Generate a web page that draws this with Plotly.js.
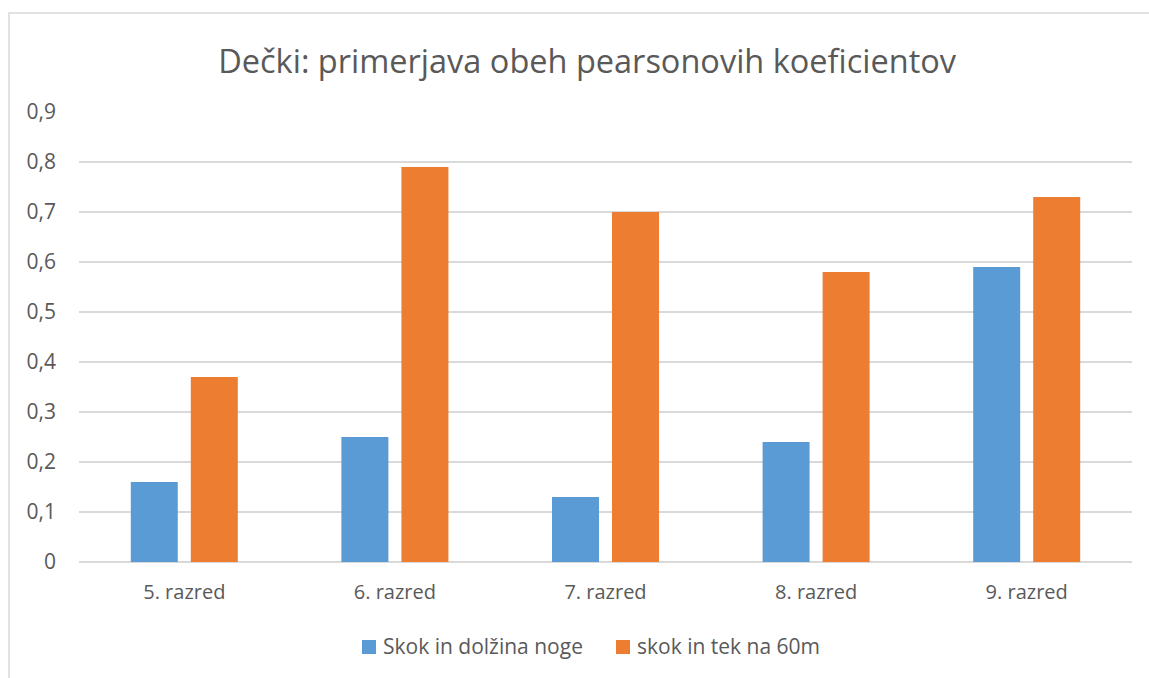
<!DOCTYPE html>
<html><head><meta charset="utf-8">
<script src="https://cdn.plot.ly/plotly-3.0.1.min.js"></script>
<style>html,body{margin:0;padding:0;background:#fff}#c{width:1149px;height:678px}</style>
</head><body><div id="c"></div>
<script>
var categories = ["5. razred","6. razred","7. razred","8. razred","9. razred"];
var skokDolzina = [0.16,0.25,0.13,0.24,0.59];
var skokTek = [0.37,0.79,0.70,0.58,0.73];
var seriesNames = ["Skok in dolžina noge","skok in tek na 60m"];
var seriesColors = ['#5B9BD5','#ED7D31'];
var yTicks = [0,0.1,0.2,0.3,0.4,0.5,0.6,0.7,0.8,0.9];
var yTickText = yTicks.map(function(v){return String(v).replace('.',',');});

var L=79,R=17,T=112,B=116,W=1149,H=678;
var pw=W-L-R, ph=H-T-B;
function px(x){return (x-L)/pw;}
function py(y){return (H-B-y)/ph;}

var font = "Open Sans, sans-serif";
var data = [
 {type:'bar', x:categories, y:skokDolzina, name:seriesNames[0], marker:{color:seriesColors[0]}, hoverinfo:'y'},
 {type:'bar', x:categories, y:skokTek, name:seriesNames[1], marker:{color:seriesColors[1]}, hoverinfo:'y'}
];

// legend drawn as shapes + annotations
var legendX = [362, 616];
var shapes = [{type:'rect', xref:'paper', yref:'paper', x0:px(9), x1:px(1200), y0:py(700), y1:py(13), line:{color:'#d9d9d9', width:1.5}, fillcolor:'rgba(0,0,0,0)', layer:'below'}];
var annotations = [];
seriesNames.forEach(function(n,i){
  shapes.push({type:'rect', xref:'paper', yref:'paper', x0:px(legendX[i]), x1:px(legendX[i]+14), y0:py(654), y1:py(640), line:{width:0}, fillcolor:seriesColors[i]});
  annotations.push({xref:'paper', yref:'paper', x:px(legendX[i]+19), y:py(646), xanchor:'left', yanchor:'middle', showarrow:false, text:n, font:{family:font,size:21,color:'#595959'}});
});

var layout = {
 width:W, height:H,
 margin:{l:L,r:R,t:T,b:B},
 paper_bgcolor:'#fff', plot_bgcolor:'#fff',
 font:{family:font, color:'#595959'},
 title:{text:'Dečki: primerjava obeh pearsonovih koeficientov', font:{family:font,size:32.5,color:'#595959'}, x:0.511, xanchor:'center', y:1-62/H, yanchor:'middle'},
 bargap:0.43, bargroupgap:0.217,
 xaxis:{type:'category', showgrid:false, zeroline:false, showline:false, ticks:'', tickfont:{size:20,color:'#595959'}, ticklabelstandoff:16, fixedrange:true},
 yaxis:{range:[0,0.9], tickvals:yTicks, ticktext:yTickText, showgrid:true, gridcolor:'#d9d9d9', gridwidth:1.3, zeroline:true, zerolinecolor:'#d9d9d9', zerolinewidth:1.3, showline:false, ticks:'', tickfont:{size:21,color:'#595959'}, ticklabelstandoff:22, fixedrange:true},
 showlegend:false,
 shapes:shapes,
 annotations:annotations
};
Plotly.newPlot('c', data, layout, {displayModeBar:false, staticPlot:true});
</script></body></html>
